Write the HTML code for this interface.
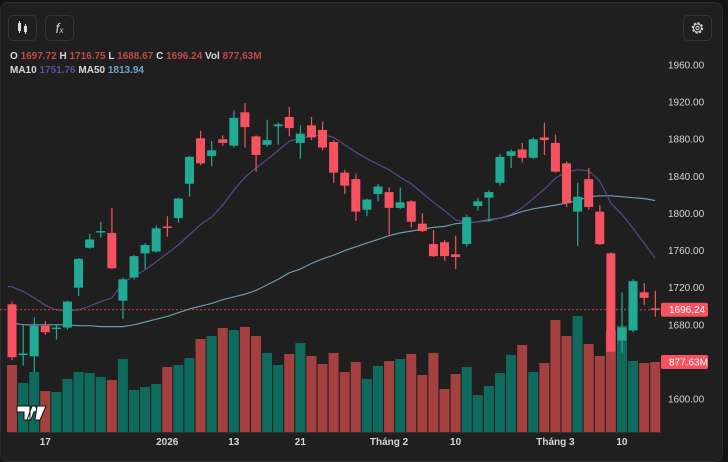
<!DOCTYPE html>
<html><head><meta charset="utf-8">
<style>
html,body{margin:0;padding:0;background:#141414;width:728px;height:457px;overflow:hidden;font-family:"Liberation Sans",sans-serif}
#panel{position:absolute;left:0;top:2px;width:723px;height:460px;background:#1f1f1f;border:1px solid #2e2e2e;border-radius:8px;box-sizing:border-box}
.btn{position:absolute;width:29px;height:26px;border:1px solid #353535;border-radius:5px;box-sizing:border-box;background:#1f1f1f}
.legend{position:absolute;left:10px;font-size:10px;font-weight:bold;color:#d8d8d8;white-space:nowrap}
.r{color:#c0494d}.p{color:#5e4f97}.b{color:#6fa3c7}
svg{position:absolute;left:0;top:0}
</style></head><body>
<div id="panel"></div>
<div class="btn" style="left:8px;top:15px">
<svg width="27" height="24" style="position:absolute;left:0;top:0"><rect x="9" y="7" width="3" height="8" fill="#ddd"/><rect x="10" y="5" width="1" height="12" fill="#ddd"/><rect x="15" y="10" width="3" height="6" fill="#ddd"/><rect x="16" y="8" width="1" height="10" fill="#ddd"/></svg></div>
<div class="btn" style="left:45px;top:15px;color:#ccc;font-size:14px;font-style:italic;text-align:center;line-height:24px">f<span style="font-size:8px">x</span></div>
<div class="btn" style="left:683px;top:15px">
<svg width="27" height="24" style="position:absolute;left:0;top:0"><circle cx="13.5" cy="12" r="5" fill="none" stroke="#ddd" stroke-width="1.4" stroke-dasharray="2.2 1.7"/><circle cx="13.5" cy="12" r="4" fill="none" stroke="#ddd" stroke-width="1"/><circle cx="13.5" cy="12" r="1.6" fill="none" stroke="#ddd" stroke-width="1"/></svg></div>
<div class="legend" style="top:51px">O <span class="r">1697.72</span> H <span class="r">1716.75</span> L <span class="r">1688.67</span> C <span class="r">1696.24</span> Vol <span class="r">877,63M</span></div>
<div class="legend" style="top:65px">MA10 <span class="p">1751.76</span> MA50 <span class="b">1813.94</span></div>
<svg id="chart" width="728" height="457"></svg>
<script>
const opens=[1702,1648,1646,1679,1676,1677,1720,1763,1780,1779,1706,1731,1757,1759,1786,1795,1832,1881,1862,1880,1873,1909,1883,1874,1894,1904,1876,1895,1890,1877,1844,1837,1804,1821,1823,1806,1813,1789,1767,1769,1756,1767,1808,1817,1833,1862,1869,1860,1882,1876,1854,1802,1837,1802,1757,1663,1674,1715,1697.72];
const highs=[1705,1680,1688,1684,1680,1706,1752,1778,1791,1806,1731,1755,1768,1787,1797,1817,1862,1889,1878,1884,1911,1919,1884,1901,1898,1915,1895,1904,1899,1879,1847,1843,1816,1832,1828,1828,1814,1800,1782,1771,1776,1799,1817,1825,1864,1869,1876,1882,1898,1885,1856,1833,1849,1809,1758,1715,1729,1725,1716.75];
const lows=[1642,1636,1629,1669,1664,1675,1711,1762,1774,1740,1686,1729,1740,1758,1775,1790,1818,1852,1851,1873,1871,1871,1845,1872,1874,1883,1859,1879,1868,1833,1821,1792,1797,1813,1777,1805,1785,1780,1753,1749,1740,1764,1803,1791,1830,1849,1855,1859,1863,1844,1807,1765,1804,1766,1650,1650,1672,1701,1688.67];
const closes=[1645,1649,1679,1672,1677,1705,1751,1772,1781,1741,1729,1754,1766,1784,1785,1816,1861,1854,1868,1876,1903,1893,1863,1879,1896,1892,1886,1882,1871,1844,1830,1802,1815,1829,1806,1812,1791,1781,1754,1754,1753,1796,1813,1823,1861,1867,1860,1880,1879,1845,1811,1818,1807,1767,1651,1677,1727,1709,1696.24];
const volumes=[840,614,752,514,502,665,752,740,690,652,915,527,564,602,815,840,928,1166,1204,1304,1279,1317,1204,991,840,978,1116,953,853,991,752,878,665,828,890,915,978,715,991,539,727,815,464,577,740,966,1091,752,865,1404,1204,1455,1104,953,1267,1329,890,865,877.63];
const ma10=[1721,1716,1709,1701,1696,1695,1696,1700,1705,1709,1725,1733,1739,1748,1757,1766,1777,1788,1796,1809,1825,1839,1849,1858,1868,1878,1881,1883,1885,1882,1874,1866,1859,1853,1847,1839,1832,1822,1812,1803,1793,1790,1791,1792,1795,1799,1806,1816,1826,1838,1845,1847,1846,1835,1811,1799,1784,1768,1751.76];
const ma50=[1682,1680,1680,1680,1680,1680,1679,1679,1678,1678,1678,1680,1683,1686,1689,1693,1697,1700,1703,1707,1710,1713,1717,1723,1729,1736,1740,1746,1751,1755,1760,1764,1768,1772,1776,1779,1781,1783,1785,1786,1789,1790,1791,1793,1795,1798,1802,1805,1807,1809,1811,1814,1818,1819,1819,1818,1817,1816,1813.94];
const priceTicks=[1960,1920,1880,1840,1800,1760,1720,1680,1600];
const timeLabels=["17","2026","13","21","Tháng 2","10","Tháng 3","10"];
const timeIdx=[3,14,20,26,34,40,49,55];
const lastPrice=1696.24, lastVol=877.63;

const NS="http://www.w3.org/2000/svg";
const svg=document.getElementById('chart');
const X=i=>12+i*11.09;
const Y=p=>65+(1960-p)*0.9278;
const VB=432, VS=70/877.63;
const VY=v=>VB-v*VS;
function mk(tag,attrs,parent){const e=document.createElementNS(NS,tag);for(const k in attrs)e.setAttribute(k,attrs[k]);(parent||svg).appendChild(e);return e;}

// volumes
for(let i=0;i<volumes.length;i++){
  const up=closes[i]>=opens[i];
  const r=mk('rect',{x:X(i)-5,y:VY(volumes[i]),width:10,height:VB-VY(volumes[i]),fill:up?'#0f6a5e':'#a4403f'});
  
  
}
mk('line',{x1:8,x2:662,y1:VB+0.5,y2:VB+0.5,stroke:'#333','stroke-width':1});
// MAs
function line(arr,color,name){
  let d='';arr.forEach((v,i)=>{d+=(i?'L':'M')+X(i).toFixed(1)+' '+Y(v).toFixed(1);});
  d='M8 '+Y(arr[0]).toFixed(1)+d.replace(/^M/,'L');
  const p=mk('path',{d:d,fill:'none',stroke:color,'stroke-width':1.2});
  
  
}
line(ma50,'#6d98ad','ma50-line');
line(ma10,'#564a86','ma10-line');
// price line
const pl=mk('line',{x1:0,x2:662,y1:Y(lastPrice),y2:Y(lastPrice),stroke:'#c9474c','stroke-width':1,'stroke-dasharray':'2 2'});


// candles
for(let i=0;i<opens.length;i++){
  const up=closes[i]>=opens[i];const c=up?'#22ab94':'#f7525f';
  const g=mk('g',{});
  
  
  mk('rect',{x:X(i)-0.5,y:Y(highs[i]),width:1.2,height:Y(lows[i])-Y(highs[i]),fill:c},g);
  const t=Y(Math.max(opens[i],closes[i])),b=Y(Math.min(opens[i],closes[i]));
  mk('rect',{x:X(i)-4.5,y:t,width:9,height:Math.max(1.5,b-t),fill:c},g);
}
// price axis
priceTicks.forEach(p=>{
  const t=mk('text',{x:668,y:Y(p)+3.5,fill:'#d6d6d6','font-size':'10','font-family':'Liberation Sans, sans-serif'});
  t.textContent=p.toFixed(2);
  
  
});
function badge(yc,txt,name){
  const g=mk('g',{});
  
  
  mk('rect',{x:661,y:yc-7,width:47,height:14,rx:2,fill:'#f7525f'},g);
  const t=mk('text',{x:669,y:yc+3.5,fill:'#fff','font-size':'10','font-family':'Liberation Sans, sans-serif'},g);
  t.textContent=txt;
}
badge(Y(lastPrice),lastPrice.toFixed(2),'last-price-badge');
badge(VY(lastVol),lastVol.toFixed(2)+'M','last-volume-badge');
// time axis
timeLabels.forEach((s,k)=>{
  const t=mk('text',{x:X(timeIdx[k]),y:445,fill:'#d6d6d6','font-size':'10','font-weight':'bold','text-anchor':'middle','font-family':'Liberation Sans, sans-serif'});
  t.textContent=s;
  
  
});
// logo
const lg=mk('g',{});


mk('path',{d:'M17 406h13v14h-6v-8h-7z M32 406h4l-5 14h-4z',fill:'#fff',stroke:'#111','stroke-width':1},lg);
mk('circle',{x:0,cx:34,cy:409,r:2.3,fill:'#fff'},lg);
mk('path',{d:'M37 406h9l-6 14h-5z',fill:'#fff',stroke:'#111','stroke-width':1},lg);
</script>
</body></html>
